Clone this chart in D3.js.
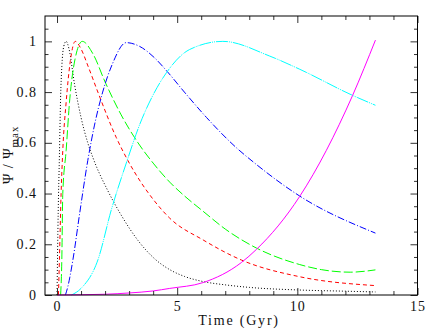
<!DOCTYPE html>
<html>
<head>
<meta charset="utf-8">
<script src="https://cdn.jsdelivr.net/npm/d3@7"></script>
<style>
  body { margin: 0; background: #fff; }
  svg text { font-family: "Liberation Serif", serif; font-size: 14px; fill: #111; letter-spacing: 1px; }
</style>
</head>
<body>
<svg width="445" height="332"></svg>
<script>
// values: time in Gyr, psi / psi_max
var blackT = [0, 0.05, 0.1, 0.15, 0.2, 0.28, 0.38, 0.5, 0.73, 1.0, 1.28, 1.5, 2.12, 2.67, 3.37, 4.06, 4.69, 5.31, 6.08, 7, 8, 10, 12, 13.25]
var blackV = [0, 0.33, 0.55, 0.78, 0.9, 0.98, 1.0, 0.97, 0.83, 0.7, 0.6, 0.54, 0.41, 0.315, 0.215, 0.143, 0.1, 0.073, 0.053, 0.04, 0.03, 0.02, 0.015, 0.012]

var redT = [0.06, 0.1, 0.17, 0.24, 0.38, 0.55, 0.76, 1.0, 1.3, 1.7, 2.47, 2.95, 4.06, 4.69, 6.08, 7.67, 10.1, 13.25]
var redV = [0, 0.14, 0.4, 0.57, 0.76, 0.92, 1.0, 0.97, 0.9, 0.8, 0.62, 0.53, 0.37, 0.303, 0.217, 0.138, 0.072, 0.037]

var greenT = [0.15, 0.2, 0.24, 0.38, 0.52, 0.75, 1.05, 1.5, 2, 2.67, 3.37, 4, 4.69, 5.31, 6.08, 7, 8.3, 10.1, 11, 12.2, 13.25]
var greenV = [0, 0.14, 0.4, 0.57, 0.76, 0.93, 1.0, 0.95, 0.84, 0.71, 0.6, 0.52, 0.445, 0.39, 0.33, 0.26, 0.185, 0.12, 0.1, 0.09, 0.099]

var blueT = [0.35, 0.45, 0.66, 0.94, 1.28, 1.56, 1.9, 2.3, 2.88, 3.44, 4.06, 4.55, 5.3, 6.22, 7.47, 8.16, 10.1, 13.25]
var blueV = [0, 0.033, 0.138, 0.32, 0.53, 0.67, 0.8, 0.91, 0.995, 0.98, 0.935, 0.885, 0.8, 0.7, 0.58, 0.525, 0.39, 0.244]

var cyanT = [0.6, 1.0, 1.7, 2.26, 2.9, 3.44, 4.06, 4.55, 5.52, 6.9, 8.85, 10.1, 12.3, 13.25]
var cyanV = [0, 0.026, 0.138, 0.336, 0.525, 0.672, 0.8, 0.876, 0.968, 1.0, 0.942, 0.89, 0.787, 0.748]

var magentaT = [0, 2, 3, 4, 4.69, 6.08, 7.67, 8.3, 10.1, 12.3, 13.25]
var magentaV = [0, 0.003, 0.008, 0.016, 0.026, 0.049, 0.128, 0.18, 0.389, 0.787, 1.005]

var xTicks = [0, 5, 10, 15]
var yTicks = [0, 0.2, 0.4, 0.6, 0.8, 1]

var series = [
  {t: blackT, v: blackV, color: "#000", dash: "1,2"},
  {t: redT, v: redV, color: "#ff0000", dash: "4,3"},
  {t: greenT, v: greenV, color: "#00ff00", dash: "9,3"},
  {t: blueT, v: blueV, color: "#0000ff", dash: "7,2,1,2"},
  {t: cyanT, v: cyanV, color: "#00ffff", dash: "12,1,1,1,1,1"},
  {t: magentaT, v: magentaV, color: "#ff00ff", dash: null}
]

var box = {left: 45, right: 417.5, top: 16, bottom: 295}

var x = d3.scaleLinear().domain([-0.5, 15]).range([box.left, box.right])
var y = d3.scaleLinear().domain([0, 1.1]).range([box.bottom, box.top])

var svg = d3.select("svg")

var line = d3.line()
  .x(function(d){ return x(d[0]); })
  .y(function(d){ return y(d[1]); })
  .curve(d3.curveMonotoneX)

series.forEach(function(s){
  var pts = s.t.map(function(t, i){ return [t, s.v[i]]; })
  svg.append("path")
    .attr("d", line(pts))
    .attr("fill", "none")
    .attr("stroke", s.color)
    .attr("stroke-width", 1)
    .attr("stroke-dasharray", s.dash)
})

// ticks, pointing inwards on all four sides
var xMinor = d3.range(0, 15.01, 1).filter(function(v){ return v % 5 !== 0; })
var yMinor = d3.range(0.05, 1.1, 0.05).filter(function(v){ return Math.abs(v / 0.2 - Math.round(v / 0.2)) > 0.01; })

function axes(g, axis, size){
  g.call(axis.tickSize(size).tickFormat(""))
  g.select(".domain").remove()
  g.selectAll("line").attr("stroke", "#333")
}

svg.append("g").attr("transform", "translate(0," + box.bottom + ")")
  .call(axes, d3.axisBottom(x).tickValues(xTicks), -7)
svg.append("g").attr("transform", "translate(0," + box.bottom + ")")
  .call(axes, d3.axisBottom(x).tickValues(xMinor), -4)
svg.append("g").attr("transform", "translate(0," + box.top + ")")
  .call(axes, d3.axisTop(x).tickValues(xTicks), -7)
svg.append("g").attr("transform", "translate(0," + box.top + ")")
  .call(axes, d3.axisTop(x).tickValues(xMinor), -4)
svg.append("g").attr("transform", "translate(" + box.left + ",0)")
  .call(axes, d3.axisLeft(y).tickValues(yTicks), -7)
svg.append("g").attr("transform", "translate(" + box.left + ",0)")
  .call(axes, d3.axisLeft(y).tickValues(yMinor), -3.5)
svg.append("g").attr("transform", "translate(" + box.right + ",0)")
  .call(axes, d3.axisRight(y).tickValues(yTicks), -7)
svg.append("g").attr("transform", "translate(" + box.right + ",0)")
  .call(axes, d3.axisRight(y).tickValues(yMinor), -3.5)

svg.append("rect")
  .attr("x", box.left).attr("y", box.top)
  .attr("width", box.right - box.left).attr("height", box.bottom - box.top)
  .attr("fill", "none").attr("stroke", "#000").attr("stroke-width", 1)

// tick labels
svg.selectAll(".xl").data(xTicks).enter().append("text")
  .attr("x", function(d){ return x(d) + 0.5; })
  .attr("y", 311)
  .attr("text-anchor", "middle")
  .text(function(d){ return d; })

svg.selectAll(".yl").data(yTicks).enter().append("text")
  .attr("x", 37)
  .attr("y", function(d){ return y(d) + 4.5; })
  .attr("text-anchor", "end")
  .text(function(d){ return d; })

svg.append("text")
  .attr("x", 239).attr("y", 325)
  .attr("text-anchor", "middle")
  .style("letter-spacing", "1.8px")
  .text("Time (Gyr)")

var yl = svg.append("text")
  .attr("transform", "translate(12.5,184) rotate(-90)")
  .style("font-size", "14px")
yl.append("tspan").text("\u03A8 / \u03A8")
yl.append("tspan").attr("dy", 5).style("font-size", "11px").text("max")
</script>
</body>
</html>
